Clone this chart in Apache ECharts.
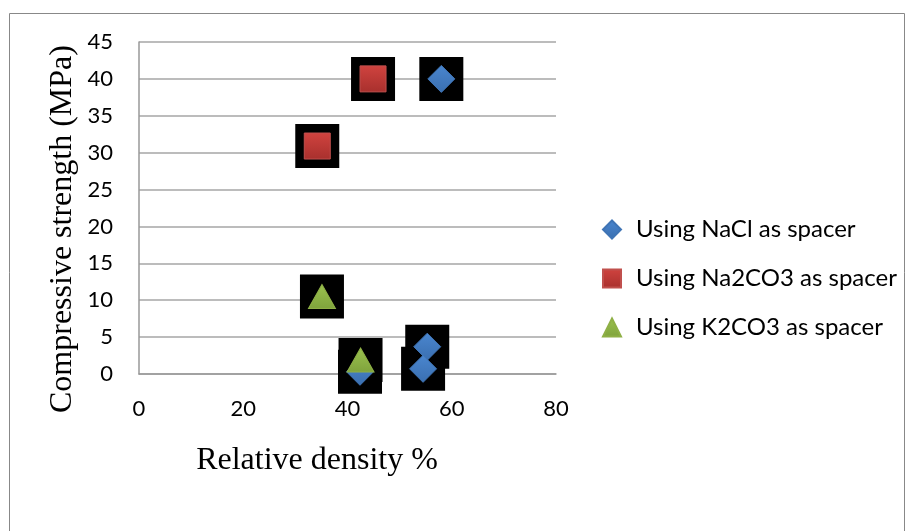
<!DOCTYPE html>
<html><head><meta charset="utf-8">
<script src="https://cdn.jsdelivr.net/npm/echarts@6/dist/echarts.min.js"></script>
<style>html,body{margin:0;padding:0;background:#fff}#c{width:909px;height:531px}</style>
</head><body><div id="c"></div>
<script>
var seriesNames = ['Using NaCl as spacer', 'Using Na2CO3 as spacer', 'Using K2CO3 as spacer'];
var naclData = [[58, 40], [55.3, 3.7], [54.5, 0.7], [42.4, 0.3]];
var na2co3Data = [[44.9, 40], [34.2, 30.9]];
var k2co3Data = [[35.1, 10.5], [42.5, 1.9]];
var xTicks = [0, 20, 40, 60, 80];
var yTicks = [0, 5, 10, 15, 20, 25, 30, 35, 40, 45];
var xTitle = 'Relative density %';
var yTitle = 'Compressive strength (MPa)';

function grad(top, bottom) {
  return new echarts.graphic.LinearGradient(0, 0, 0, 1, [{offset: 0, color: top}, {offset: 1, color: bottom}]);
}
var dataSets = [naclData, na2co3Data, k2co3Data];
var symbols = ['diamond', 'rect', 'triangle'];
var sizes = [[27, 27], [26, 26], [27, 24]];
var fills = [grad('#4a86cf', '#3a6fb0'), grad('#d0433f', '#a8302d'), grad('#9bc24f', '#7fa33c')];
var strokes = ['#3f74b5', '#c0504d', '#8fb046'];

var series = [];
dataSets.forEach(function (d, i) {
  series.push({
    type: 'scatter', data: d, symbol: 'rect', symbolSize: 44, z: 1,
    itemStyle: {color: '#000', opacity: 1}, silent: true, legendHoverLink: false, name: '_bg' + i
  });
});
dataSets.forEach(function (d, i) {
  series.push({
    type: 'scatter', name: seriesNames[i], data: d, symbol: symbols[i], symbolSize: sizes[i], z: 3,
    itemStyle: {color: fills[i], borderColor: strokes[i], borderWidth: 1, opacity: 1}
  });
});

var chart = echarts.init(document.getElementById('c'), null, {renderer: 'canvas'});
chart.setOption({
  animation: false,
  backgroundColor: '#fff',
  graphic: [
    {type: 'rect', shape: {x: 9.5, y: 13.5, width: 895, height: 530}, style: {fill: 'none', stroke: '#888', lineWidth: 1}, silent: true},
    {type: 'text', x: 317, y: 461, style: {text: xTitle, font: '32px "Liberation Serif"', fill: '#000', textAlign: 'center', textVerticalAlign: 'middle'}},
    {type: 'text', x: 63, y: 229, rotation: Math.PI / 2, style: {text: yTitle, font: '32px "Liberation Serif"', fill: '#000', textAlign: 'center', textVerticalAlign: 'middle'}}
  ],
  grid: {left: 139, right: 353, top: 42, bottom: 157},
  legend: {
    data: seriesNames.map(function (n, i) { return {name: n, icon: symbols[i]}; }),
    orient: 'vertical', left: 597, top: 212, itemGap: 24, itemWidth: 18, itemHeight: 18,
    textStyle: {fontFamily: 'Lato', fontSize: 24, lineHeight: 25, color: '#000', padding: [0, 0, 0, 10]}
  },
  xAxis: {
    type: 'value', min: 0, max: 80, interval: 20,
    axisLine: {show: true, lineStyle: {color: '#999', width: 1.5}},
    axisTick: {show: false},
    splitLine: {show: false},
    axisLabel: {fontFamily: 'Lato', fontSize: 22, color: '#000', margin: 24,
      formatter: function (v) { return xTicks.indexOf(v) >= 0 ? String(v) : ''; }}
  },
  yAxis: {
    type: 'value', min: 0, max: 45, interval: 5,
    axisLine: {show: true, lineStyle: {color: '#999', width: 1.5}},
    axisTick: {show: false},
    splitLine: {show: true, lineStyle: {color: '#a6a6a6', width: 1.5}},
    axisLabel: {fontFamily: 'Lato', fontSize: 22, color: '#000', margin: 26,
      formatter: function (v) { return yTicks.indexOf(v) >= 0 ? String(v) : ''; }}
  },
  series: series
});
</script></body></html>
